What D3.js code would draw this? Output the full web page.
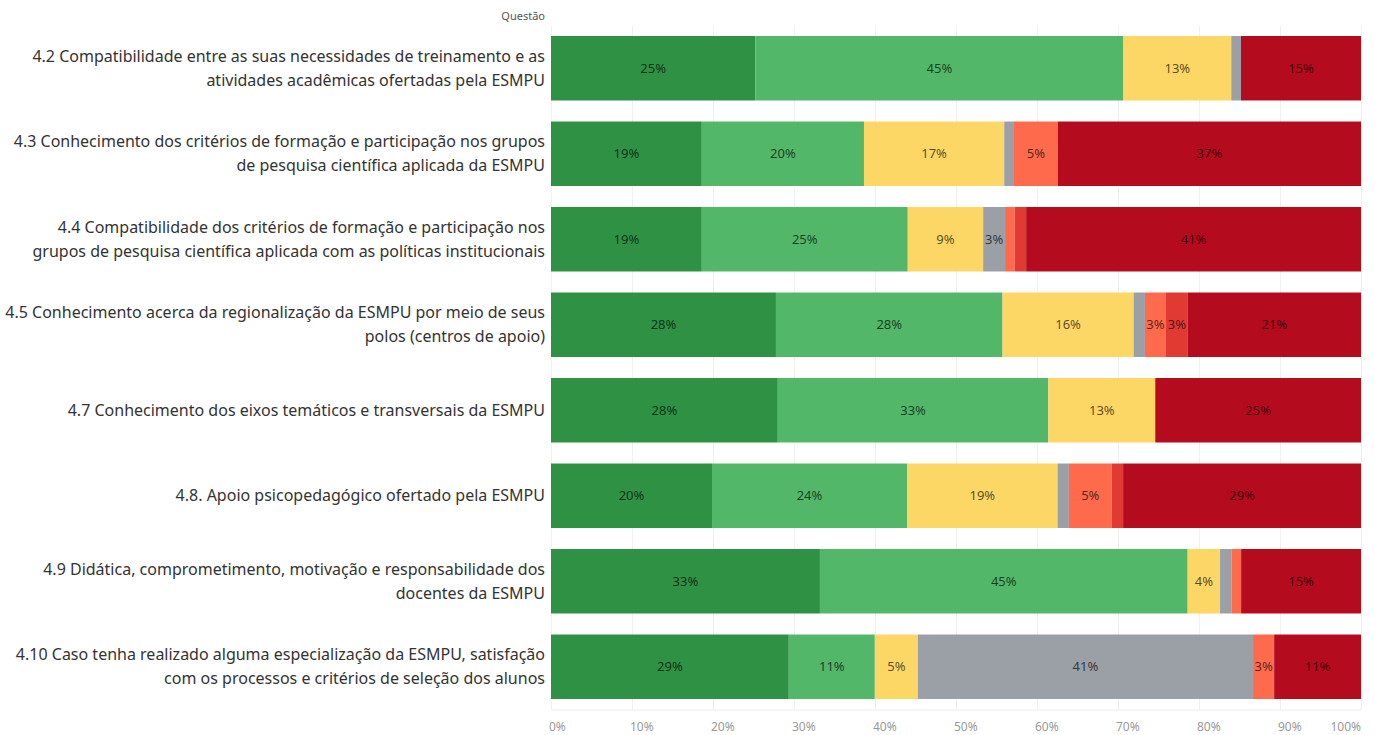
<!DOCTYPE html>
<html>
<head>
<meta charset="utf-8">
<script src="https://cdnjs.cloudflare.com/ajax/libs/d3/7.8.5/d3.min.js"></script>
<style>
   body { margin: 0; background: #fff; }
   svg { display: block; font-family: "Noto Sans", sans-serif; }
</style>
</head>
<body>
<div id="chart"></div>
<script>
// questions (row labels, each line of a wrapped label)
var questions = [
   ['4.2 Compatibilidade entre as suas necessidades de treinamento e as', 'atividades acadêmicas ofertadas pela ESMPU'],
   ['4.3 Conhecimento dos critérios de formação e participação nos grupos', 'de pesquisa científica aplicada da ESMPU'],
   ['4.4 Compatibilidade dos critérios de formação e participação nos', 'grupos de pesquisa científica aplicada com as políticas institucionais'],
   ['4.5 Conhecimento acerca da regionalização da ESMPU por meio de seus', 'polos (centros de apoio)'],
   ['4.7 Conhecimento dos eixos temáticos e transversais da ESMPU'],
   ['4.8. Apoio psicopedagógico ofertado pela ESMPU'],
   ['4.9 Didática, comprometimento, motivação e responsabilidade dos', 'docentes da ESMPU'],
   ['4.10 Caso tenha realizado alguma especialização da ESMPU, satisfação', 'com os processos e critérios de seleção dos alunos']
];

// answer categories, left to right
var answers = ['verdeEscuro', 'verdeClaro', 'amarelo', 'cinza', 'laranja', 'vermelho', 'vermelhoEscuro'];
var answerColors = ['#2e9144', '#52b768', '#fdd766', '#9b9fa6', '#fe6a4c', '#e03a33', '#b40b1e'];

// share of answers (%) per question, one array per category
var verdeEscuro    = [25.2, 18.6, 18.6, 27.8, 28.0, 19.9, 33.2, 29.3];
var verdeClaro     = [45.4, 20.0, 25.4, 28.0, 33.4, 24.1, 45.4, 10.6];
var amarelo        = [13.3, 17.3,  9.3, 16.2, 13.2, 18.6,  4.0,  5.3];
var cinza          = [ 1.2,  1.2,  2.7,  1.4,  0.0,  1.4,  1.4, 41.3];
var laranja        = [ 0.0,  5.4,  1.2,  2.6,  0.0,  5.3,  1.2,  2.6];
var vermelho       = [ 0.0,  0.0,  1.4,  2.7,  0.0,  1.4,  0.0,  0.0];
var vermelhoEscuro = [14.8, 37.4, 41.3, 21.4, 25.4, 29.4, 14.8, 10.7];

var xTicks = [0, 10, 20, 30, 40, 50, 60, 70, 80, 90, 100];

function chart() {
   var width = 1375,
      height = 735,
      left = 551,
      right = 1361,
      top = 25.5,
      bottom = 709.5;

   var series = [verdeEscuro, verdeClaro, amarelo, cinza, laranja, vermelho, vermelhoEscuro];
   var rows = questions.map(function (q, i) {
      var r = {id: i};
      answers.forEach(function (a, j) { r[a] = series[j][i]; });
      return r;
   });

   // each bar fills 100%
   var stacked = d3.stack().keys(answers).offset(d3.stackOffsetExpand)(rows);

   var x = d3.scaleLinear().domain([0, 1]).range([left, right]);
   var y = d3.scaleBand().domain(d3.range(questions.length))
      .range([top, bottom]).paddingInner(0.246).paddingOuter(0.123);
   var color = d3.scaleOrdinal().domain(answers).range(answerColors);

   var svg = d3.select('#chart').append('svg')
      .attr('width', width)
      .attr('height', height);

   // vertical grid
   svg.append('g')
      .selectAll('line').data(xTicks)
      .enter().append('line')
      .attr('x1', function (d) { return x(d / 100) + 0.5; })
      .attr('x2', function (d) { return x(d / 100) + 0.5; })
      .attr('y1', top)
      .attr('y2', bottom)
      .attr('stroke', '#f0f0f0');

   svg.append('line')
      .attr('x1', left).attr('x2', right)
      .attr('y1', bottom + 0.5).attr('y2', bottom + 0.5)
      .attr('stroke', '#ececec');

   // bars
   var layer = svg.append('g').selectAll('g').data(stacked)
      .enter().append('g')
      .attr('fill', function (d) { return color(d.key); });

   layer.selectAll('rect').data(function (d) { return d; })
      .enter().append('rect')
      .attr('x', function (d) { return x(d[0]); })
      .attr('y', function (d, i) { return y(i); })
      .attr('width', function (d) { return x(d[1]) - x(d[0]); })
      .attr('height', y.bandwidth());

   // segment labels (only segments wide enough)
   layer.selectAll('text')
      .data(function (d) {
         return d.filter(function (s) { return d.key && s.data[d.key] >= 2; })
            .map(function (s) { return {s: s, v: s.data[d.key]}; });
      })
      .enter().append('text')
      .attr('x', function (d) { return (x(d.s[0]) + x(d.s[1])) / 2; })
      .attr('y', function (d) { return y(d.s.data.id) + y.bandwidth() / 2; })
      .attr('dy', '0.35em')
      .attr('text-anchor', 'middle')
      .attr('fill', '#000')
      .attr('fill-opacity', 0.68)
      .style('font-size', '13px')
      .text(function (d) { return Math.round(d.v) + '%'; });

   // row labels
   var lh = 24;
   svg.append('g').selectAll('text').data(questions)
      .enter().append('text')
      .attr('text-anchor', 'end')
      .attr('fill', '#333')
      .style('font-size', '16px')
      .each(function (lines, i) {
         var cy = y(i) + y.bandwidth() / 2 - (lines.length - 1) * lh / 2;
         d3.select(this).selectAll('tspan').data(lines)
            .enter().append('tspan')
            .attr('x', 545)
            .attr('y', function (d, k) { return cy + k * lh; })
            .attr('dy', '0.35em')
            .text(function (d) { return d; });
      });

   // header
   svg.append('text')
      .attr('x', 545).attr('y', 16)
      .attr('dy', '0.35em')
      .attr('text-anchor', 'end')
      .attr('fill', '#555')
      .style('font-size', '11px')
      .text('Questão');

   // x axis
   svg.append('g').selectAll('text').data(xTicks)
      .enter().append('text')
      .attr('x', function (d) { return x(d / 100); })
      .attr('y', 727)
      .attr('dy', '0.35em')
      .attr('text-anchor', function (d) { return d === 100 ? 'end' : 'start'; })
      .attr('dx', function (d) { return d === 100 ? 0 : -2; })
      .attr('fill', '#999')
      .style('font-size', '12px')
      .text(function (d) { return d + '%'; });
}

chart();
</script>
</body>
</html>
